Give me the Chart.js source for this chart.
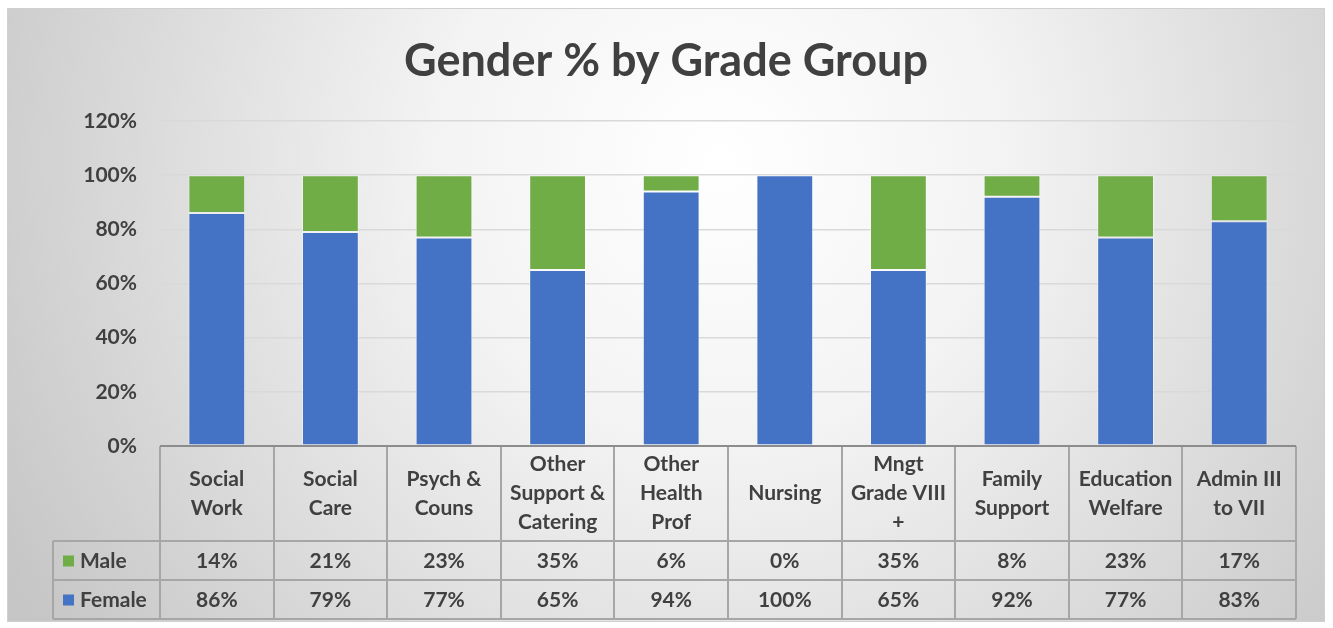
<!DOCTYPE html>
<html>
<head>
<meta charset="utf-8">
<script src="https://cdn.jsdelivr.net/npm/chart.js@4/dist/chart.umd.min.js"></script>
<style>
  html, body { margin: 0; padding: 0; background: #ffffff; }
  #wrap { width: 1333px; height: 628px; }
</style>
</head>
<body>
<div id="wrap"><canvas id="genderChart" width="1333" height="628"></canvas></div>
<script>
// Data
const categories = [
    ['Social', 'Work'],
    ['Social', 'Care'],
    ['Psych &', 'Couns'],
    ['Other', 'Support &', 'Catering'],
    ['Other', 'Health', 'Prof'],
    ['Nursing'],
    ['Mngt', 'Grade VIII', '+'],
    ['Family', 'Support'],
    ['Education', 'Welfare'],
    ['Admin III', 'to VII']
];
const femaleValues = [86, 79, 77, 65, 94, 100, 65, 92, 77, 83];
const maleValues = [14, 21, 23, 35, 6, 0, 35, 8, 23, 17];
const yTicks = [0, 20, 40, 60, 80, 100, 120];

const FONT = 'Lato, "Open Sans", sans-serif';
const TEXT_COLOR = '#404040';
const GREEN = '#70AD47';
const BLUE = '#4472C4';

// Background frame with a soft radial gradient
const backgroundPlugin = {
    id: 'frameBackground',
    beforeDraw(chart) {
        const ctx = chart.ctx;
        ctx.save();
        ctx.fillStyle = '#ffffff';
        ctx.fillRect(0, 0, chart.width, chart.height);
        const g = ctx.createRadialGradient(720, 160, 0, 720, 160, 820);
        g.addColorStop(0, '#ffffff');
        g.addColorStop(0.35, '#f3f3f3');
        g.addColorStop(1, '#c6c6c6');
        ctx.fillStyle = g;
        ctx.fillRect(7, 8, 1318, 614);
        ctx.strokeStyle = '#d0d0d0';
        ctx.lineWidth = 1;
        ctx.strokeRect(7.5, 8.5, 1317, 613);
        // Title
        ctx.fillStyle = TEXT_COLOR;
        ctx.font = 'bold 45px ' + FONT;
        ctx.textAlign = 'center';
        ctx.textBaseline = 'middle';
        ctx.fillText('Gender % by Grade Group', 666, 61);
        ctx.restore();
    }
};

// Data table drawn beneath the plot, columns follow the x scale
const dataTablePlugin = {
    id: 'dataTable',
    afterDraw(chart) {
        const ctx = chart.ctx;
        const x = chart.scales.x;
        const area = chart.chartArea;
        const n = categories.length;
        const step = (area.right - area.left) / n;
        const top = area.bottom;
        const headerBottom = top + 95;
        const maleBottom = headerBottom + 39;
        const femaleBottom = maleBottom + 39;
        const legendLeft = 53;

        ctx.save();
        // grid of the table
        ctx.strokeStyle = '#a6a6a6';
        ctx.lineWidth = 2;
        ctx.beginPath();
        for (let i = 0; i <= n; i++) {
            const px = Math.round(area.left + i * step);
            ctx.moveTo(px, top);
            ctx.lineTo(px, femaleBottom);
        }
        ctx.moveTo(legendLeft, headerBottom);
        ctx.lineTo(legendLeft, femaleBottom);
        [headerBottom, maleBottom, femaleBottom].forEach(yy => {
            ctx.moveTo(legendLeft, yy);
            ctx.lineTo(area.right, yy);
        });
        ctx.stroke();

        // axis line at 0%
        ctx.strokeStyle = '#8c8c8c';
        ctx.lineWidth = 2;
        ctx.beginPath();
        ctx.moveTo(area.left, top);
        ctx.lineTo(area.right, top);
        ctx.stroke();

        ctx.fillStyle = TEXT_COLOR;
        ctx.font = 'bold 21px ' + FONT;
        ctx.textAlign = 'center';
        ctx.textBaseline = 'middle';
        const lineH = 29;
        categories.forEach((lines, i) => {
            const cx = x.getPixelForValue(i);
            const cy = (top + headerBottom) / 2;
            lines.forEach((t, j) => {
                ctx.fillText(t, cx, cy + (j - (lines.length - 1) / 2) * lineH);
            });
            ctx.fillText(maleValues[i] + '%', cx, (headerBottom + maleBottom) / 2 + 1);
            ctx.fillText(femaleValues[i] + '%', cx, (maleBottom + femaleBottom) / 2 + 1);
        });

        // legend keys
        const rows = [
            { label: 'Male', color: GREEN, y: (headerBottom + maleBottom) / 2 },
            { label: 'Female', color: BLUE, y: (maleBottom + femaleBottom) / 2 }
        ];
        ctx.textAlign = 'left';
        rows.forEach(r => {
            ctx.fillStyle = r.color;
            ctx.fillRect(63, r.y - 5, 11, 11);
            ctx.fillStyle = TEXT_COLOR;
            ctx.fillText(r.label, 80, r.y + 1);
        });
        ctx.restore();
    }
};

const ctx = document.getElementById('genderChart').getContext('2d');
const genderChart = new Chart(ctx, {
    type: 'bar',
    data: {
        labels: categories,
        datasets: [
            {
                label: 'Female',
                data: femaleValues,
                backgroundColor: BLUE,
                borderColor: 'rgba(255,255,255,0.4)',
                borderWidth: 1,
                borderSkipped: false
            },
            {
                label: 'Male',
                data: maleValues,
                backgroundColor: GREEN,
                borderColor: 'rgba(255,255,255,0.4)',
                borderWidth: 1,
                borderSkipped: false
            }
        ]
    },
    options: {
        responsive: false,
        animation: false,
        events: [],
        layout: { padding: { left: 0, right: 37, top: 121, bottom: 182 } },
        datasets: { bar: { categoryPercentage: 1.0, barPercentage: 0.5 } },
        plugins: {
            legend: { display: false },
            title: { display: false },
            tooltip: { enabled: false }
        },
        scales: {
            x: {
                stacked: true,
                display: false
            },
            y: {
                stacked: true,
                min: 0,
                max: 120,
                afterFit(scale) { scale.width = 160; },
                afterBuildTicks(scale) { scale.ticks = yTicks.map(v => ({ value: v })); },
                border: { display: false },
                grid: { color: '#d9d9d9', lineWidth: 1.5, drawTicks: false },
                ticks: {
                    padding: 23,
                    color: TEXT_COLOR,
                    font: { family: FONT, size: 21, weight: 'bold' },
                    callback: v => v + '%'
                }
            }
        }
    },
    plugins: [backgroundPlugin, dataTablePlugin]
});
</script>
</body>
</html>
